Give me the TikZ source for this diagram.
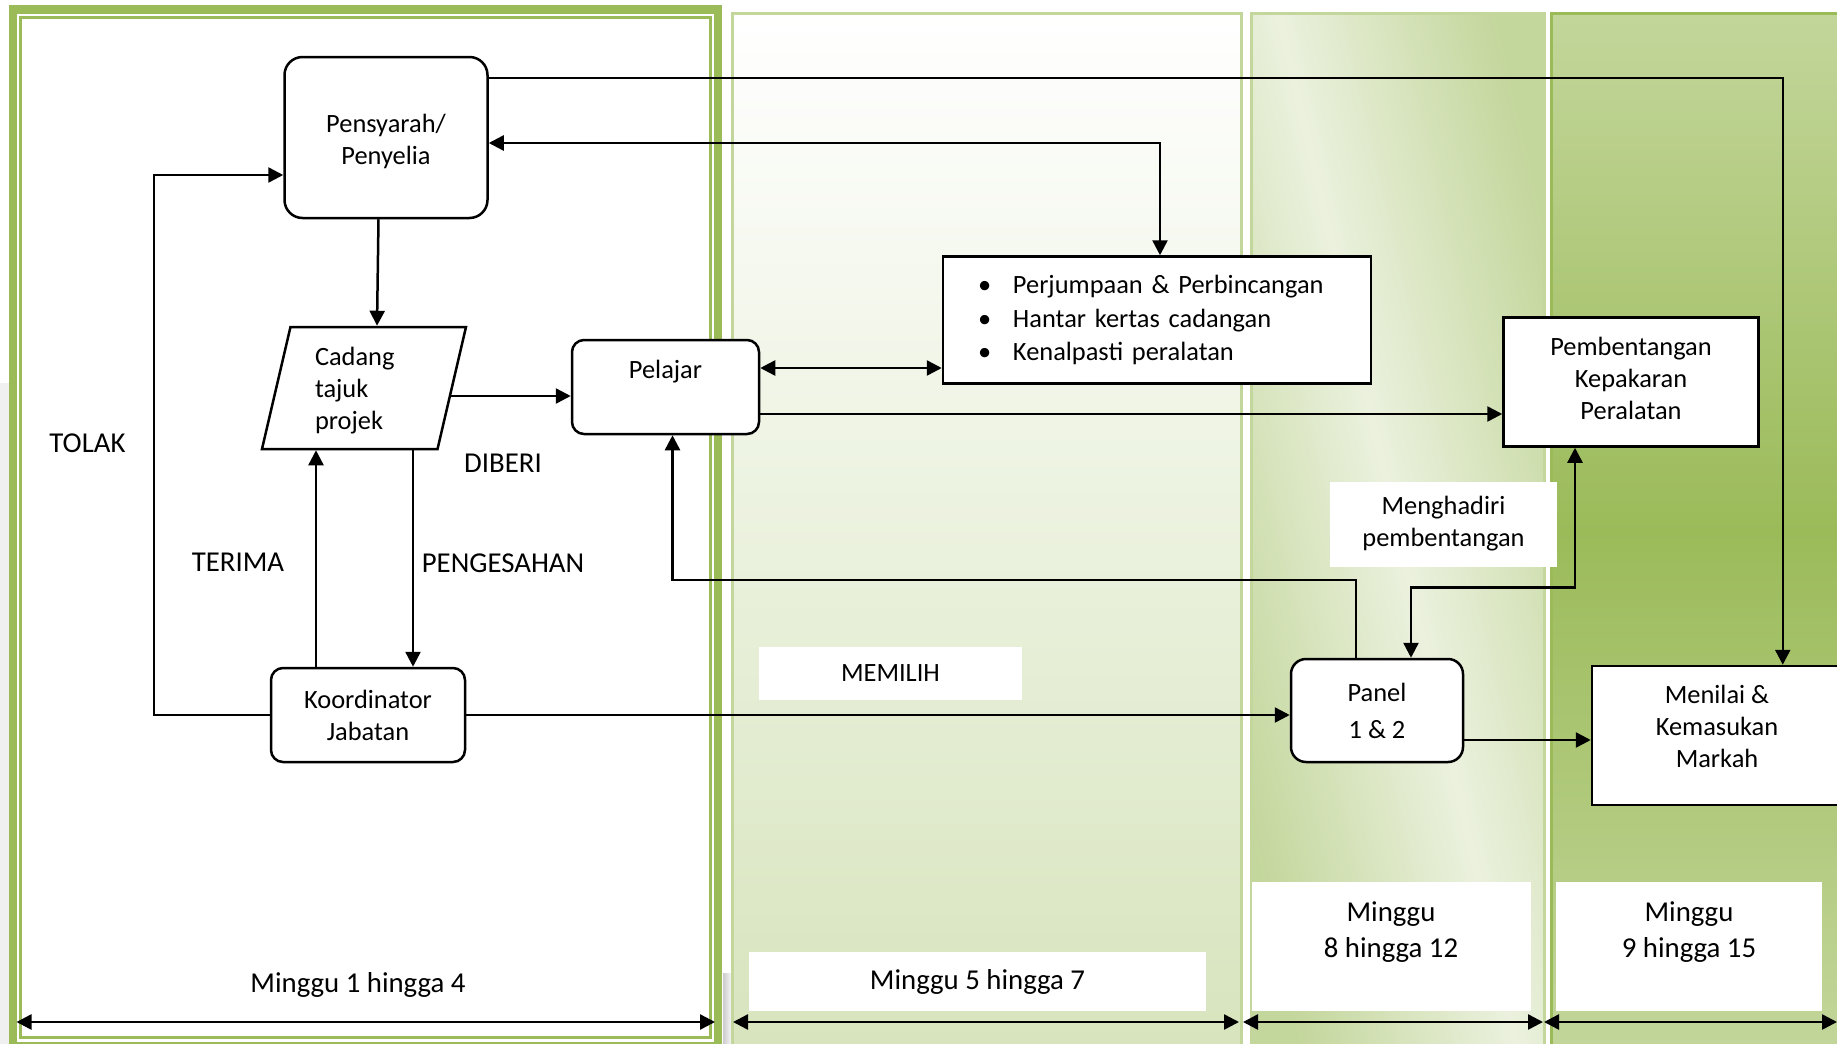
\documentclass[tikz,border=0pt]{standalone}
\usepackage{fontspec}
\setmainfont{Carlito}
\usepackage{tikz}
\usetikzlibrary{shapes.geometric,arrows.meta,calc}
\definecolor{olive}{HTML}{9BBB59}
\definecolor{olivelight}{HTML}{C3D69B}
\definecolor{olivepale}{HTML}{D7E4BD}
\definecolor{olivewhite}{HTML}{EBF1DE}
\tikzset{
  boxfont/.style={font=\fontsize{26.4}{32}\selectfont},
  labelfont/.style={font=\fontsize{28.8}{36}\selectfont},
  roundbox/.style={draw, line width=2.5pt, rounded corners=#1, fill=white, inner sep=0pt, align=center, boxfont},
  squarebox/.style={draw, line width=2.5pt, fill=white, inner sep=0pt, align=center, boxfont},
  whitebox/.style={fill=white, inner sep=0pt, align=center},
  flow/.style={line width=2.5pt, -{Triangle[length=15pt,width=15pt]}},
  flowboth/.style={line width=2.5pt, {Triangle[length=15pt,width=15pt]}-{Triangle[length=15pt,width=15pt]}},
}
\newcommand{\fmround}[7] {\node at (#1) (#2) [roundbox=#3, minimum width=#4, minimum height=#5, label={[boxfont, align=center, yshift=#6]center:#7}] {};}
\newcommand{\fmsquare}[6] {\node at (#1) (#2) [squarebox, minimum width=#3, minimum height=#4, label={[boxfont, align=center, yshift=#5]center:#6}] {};}
\newcommand{\fmlabel}[3] {\node at (#1) (#2) [labelfont] {#3};}
\newcommand{\fmflow}[2] {\draw [flow] (#1) -- (#2);}

\begin{document}
\begin{tikzpicture}[x=1pt, y=-1pt]
\useasboundingbox (0,0) rectangle (1837,1044);

\fill [gray!12] (0,383) rectangle (9,1044);
\shade [left color=gray!40, right color=gray!8] (723,973) rectangle (731,1044);
\fill [white] (13,9.5) rectangle (718,1046);
\draw [olive, line width=8.5pt] (13,9.5) rectangle (718,1046);
\draw [olive, line width=3pt] (20.5,17.5) rectangle (710.5,1037);
\shade [top color=white, bottom color=olivepale] (732,13) rectangle (1241,1050);
\draw [olivelight, line width=3pt] (732,13) rectangle (1241,1050);
\shade [left color=olivelight, right color=olivelight, middle color=olivewhite, shading angle=103] (1251.5,13) rectangle (1544,1050);
\draw [olivelight, line width=3pt] (1251.5,13) rectangle (1544,1050);
\shade [top color=olivelight, bottom color=olivelight, middle color=olive] (1551,13) rectangle (1850,1050);
\draw [olive, line width=3pt] (1551,13) rectangle (1850,1050);

\node at (1443.5,524) (hadir) [whitebox, boxfont, minimum width=227pt, minimum height=85pt] {Menghadiri\\pembentangan};
\node at (890.5,673.5) (pilih) [whitebox, boxfont, minimum width=263pt, minimum height=53pt] {MEMILIH};
\node at (977.5,981.5) (mgb) [whitebox, labelfont, minimum width=457pt, minimum height=59pt] {Minggu 5 hingga 7};
\node at (1391,946.5) (mgc) [whitebox, labelfont, minimum width=279pt, minimum height=129pt] {Minggu\\8 hingga 12\\[-12pt]\strut};
\node at (1689,946.5) (mgd) [whitebox, labelfont, minimum width=266pt, minimum height=129pt] {Minggu\\9 hingga 15\\[-12pt]\strut};
\fmlabel {358,984.5} {mga} {Minggu 1 hingga 4};

\fmround {386,137.5} {pens} {18pt} {203pt} {161pt} {-4pt} {Pensyarah/\\Penyelia};
\node at (364,388) (cadang) [squarebox, shape=trapezium, trapezium left angle=71.85, trapezium right angle=108.15, trapezium stretches body, minimum width=204pt, minimum height=122pt, text width=98pt, align=left, label={[boxfont, text width=98pt, align=left, yshift=-3pt]center:Cadang\\tajuk\\projek}] {\phantom{Cadang}\\\phantom{tajuk}\\\phantom{projek}};
\fmround {665.5,387} {pelajar} {12pt} {187pt} {94pt} {-3.5pt} {Pelajar\\\strut};
\node at (1157,320) (tugas) [squarebox, font=\fontsize{26.4}{33.5}\selectfont, minimum height=127pt, text width=358pt, inner xsep=35pt, align=left] {\makebox[35pt][l]{\textbullet}Perjumpaan \& Perbincangan\\\makebox[35pt][l]{\textbullet}Hantar kertas cadangan\\\makebox[35pt][l]{\textbullet}Kenalpasti peralatan};
\fmsquare {1631,382} {bentang} {255pt} {129pt} {4pt} {Pembentangan\\Kepakaran\\Peralatan};
\fmround {368,715} {koord} {12pt} {194pt} {94pt} {0pt} {Koordinator\\Jabatan};
\node at (1377,710.5) (panel) [roundbox=15pt, font=\fontsize{26.4}{37}\selectfont, minimum width=172pt, minimum height=103pt] {Panel\\1 \& 2};
\fmsquare {1717,735.5} {nilai} {250pt} {139pt} {9pt} {Menilai \&\\Kemasukan\\Markah};

\fmlabel {87.5,443} {tolak} {TOLAK};
\fmlabel {503,463} {diberi} {DIBERI};
\fmlabel {238,562} {terima} {TERIMA};
\fmlabel {503,563} {sah} {PENGESAHAN};

\draw [flow] ($(pens.north east)+(0,22)$) -| ($(nilai.north west)+(192,0)$);
\draw [flowboth] ($(pens.east)+(0,5.5)$) -| ($(tugas.north)+(3,0)$);
\fmflow {$(pens.south)+(-7.5,0)$} {$(cadang.north)+(13,0)$}
\draw [flow] ($(cadang.east)+(-2,8)$) coordinate (c1) -- (c1 -| pelajar.west);
\draw [flowboth] ($(pelajar.east)+(0,-19)$) coordinate (p1) -- (p1 -| tugas.west);
\draw [flow] ($(pelajar.east)+(0,27)$) coordinate (p2) -- (p2 -| bentang.west);
\draw [flow] ($(koord.north)+(-52,0)$) coordinate (t1) -- (t1 |- cadang.south);
\draw [flow] ($(cadang.south)+(49,0)$) coordinate (t2) -- (t2 |- koord.north);
\draw [flow] (koord.west) -- ++(-116,0) |- ($(pens.west)+(0,37.5)$);
\draw [flow] (koord.east) -- (koord.east -| panel.west);
\draw [flow] ($(panel.north)+(-21,0)$) -- ++(0,-78) -| ($(pelajar.south)+(7,0)$);
\draw [flowboth] ($(bentang.south)+(-56,0)$) -- ++(0,139.5) -| ($(panel.north)+(34,0)$);
\draw [flow] ($(panel.east)+(0,29.5)$) coordinate (q1) -- (q1 -| nilai.west);

\foreach \name/\x in {wa/16.5, wb/715, wc/733, wd/1239, we/1243, wf/1543, wg/1544, wh/1837}
  \coordinate (\name) at (\x,1022);
\foreach \from/\to in {wa/wb, wc/wd, we/wf, wg/wh}
  \draw [flowboth] (\from) -- (\to);

\end{tikzpicture}
\end{document}
